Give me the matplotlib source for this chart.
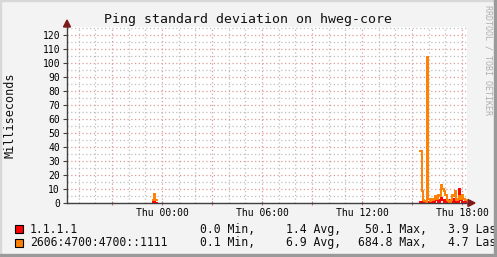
import numpy as np
import matplotlib.pyplot as plt
from matplotlib.patches import Polygon, Rectangle
from matplotlib.ticker import FixedLocator, MultipleLocator

# Time is in hours relative to Thu 00:00, samples every 5 minutes
step = 5 / 60.0

# small blip just before midnight
blip_start = -0.57
blip_v4 = [1.0, 2.0, 0.5]
blip_v6 = [2.0, 6.5, 2.0]

# main cluster late on Thursday
clus_start = 15.49
clus_v4 = [1, 1, 0.5, 1, 0.5, 1, 1, 2, 1, 0.5, 1, 3, 2, 1, 2, 4, 2,
           1, 2, 1, 2, 0.5, 1, 1, 3, 1, 0.5, 1, 10, 2, 1, 1, 1]
clus_v6 = [37, 9, 2, 1.5, 1, 104, 3, 1.5, 3, 2, 3, 5, 3, 6, 5, 13, 10,
           9, 6, 2, 1.5, 1, 2, 6, 5, 9, 2, 3, 5, 3, 6, 3, 2]

tick_hours = [-3, 0, 3, 6, 9, 12, 15, 18]
tick_labels = ['', 'Thu 00:00', '', 'Thu 06:00', '', 'Thu 12:00', '', 'Thu 18:00']

legend_names = ['1.1.1.1', '2606:4700:4700::1111']
legend_min = ['0.0', '0.1']
legend_avg = ['1.4', '6.9']
legend_max = ['50.1', '684.8']
legend_last = ['3.9', '4.7']
colors = ['#FF0000', '#FF8000']

W, H = 497, 257
mono = 'DejaVu Sans Mono'
cw = 6.94  # legend char width in px

def fx(px):
    return px / W

def fy(py):
    return 1 - py / H

fig = plt.figure(figsize=(W / 100, H / 100), dpi=100, facecolor='#F3F3F3')
x0, x1, ytop, ybot = 67, 467, 27.3, 203.3
ax = fig.add_axes([fx(x0), fy(ybot), fx(x1) - fx(x0), fy(ytop) - fy(ybot)])
ax.set_facecolor('white')

t_left = (x0 - 162) * 0.06
t_right = (x1 - 162) * 0.06
ax.set_xlim(t_left, t_right)
ax.set_ylim(0, 125.4)

# grid
ax.xaxis.set_minor_locator(MultipleLocator(1))
ax.yaxis.set_minor_locator(MultipleLocator(5))
ax.grid(which='minor', color='#BEBEBE', linestyle=(0, (1, 2)), linewidth=0.9)
ax.grid(which='major', color='#DC9A9A', linestyle=(0, (1, 2)), linewidth=0.9)
ax.set_axisbelow(True)

ax.xaxis.set_major_locator(FixedLocator(tick_hours))
ax.set_xticklabels(tick_labels, fontfamily=mono, fontsize=7)
ax.yaxis.set_major_locator(MultipleLocator(10))
ax.tick_params(axis='y', which='major', length=3, color='#404040', labelsize=7, pad=2)
ax.tick_params(axis='x', which='major', length=3, color='#C07070', direction='inout',
               labelsize=7, pad=2)
ax.tick_params(which='minor', length=0)
for lab in ax.get_yticklabels():
    lab.set_fontfamily(mono)

for s in ['top', 'right']:
    ax.spines[s].set_visible(False)
for s in ['left', 'bottom']:
    ax.spines[s].set_color('#404040')
    ax.spines[s].set_linewidth(1.0)

# data
def series(start, vals):
    t = start + step * np.arange(len(vals) + 1)
    v = list(vals) + [vals[-1]]
    return t, v

for vals_b, vals_c, c in [(blip_v4, clus_v4, colors[0]), (blip_v6, clus_v6, colors[1])]:
    for start, vals in [(blip_start, vals_b), (clus_start, vals_c)]:
        t, v = series(start, vals)
        ax.plot(t, v, drawstyle='steps-post', color=c, linewidth=1.4, solid_joinstyle='miter')

# arrows
arrow_c = '#7F1A1A'
fig.add_artist(Polygon([[fx(63.5), fy(27)], [fx(70.5), fy(27)], [fx(67), fy(20)]],
                       closed=True, color=arrow_c, transform=fig.transFigure))
fig.add_artist(Polygon([[fx(468), fy(199.5)], [fx(468), fy(206.5)], [fx(475), fy(203)]],
                       closed=True, color=arrow_c, transform=fig.transFigure))

# texts
fig.text(fx(248), fy(19), 'Ping standard deviation on hweg-core', ha='center', va='center',
         fontfamily=mono, fontsize=9.5, color='#101010')
fig.text(fx(10), fy(115), 'Milliseconds', rotation=90, ha='center', va='center',
         fontfamily=mono, fontsize=8.5, color='#101010')
fig.text(fx(488), fy(5), 'RRDTOOL / TOBI OETIKER', rotation=270, ha='center', va='top',
         fontfamily=mono, fontsize=6, color='#B0B0B0')

rows_y = [229.3, 242.7]
for i in range(2):
    y = rows_y[i]
    fig.add_artist(Rectangle((fx(15), fy(y + 4)), fx(8), fy(0) - fy(8), facecolor=colors[i],
                             edgecolor='black', linewidth=0.8, transform=fig.transFigure))
    kw = dict(va='center', ha='left', fontfamily=mono, fontsize=8.3, color='#101010')
    fig.text(fx(30), fy(y), legend_names[i], **kw)
    fig.text(fx(200), fy(y), legend_min[i] + ' Min,', **kw)
    fig.text(fx(286), fy(y), legend_avg[i] + ' Avg,', **kw)
    fig.text(fx(393 - len(legend_max[i]) * cw), fy(y), legend_max[i] + ' Max,', **kw)
    fig.text(fx(448), fy(y), legend_last[i] + ' Last', **kw)

# frame: light top/left, dark bottom/right
fig.add_artist(Rectangle((0, fy(1)), 1, fy(0) - fy(1), color='#D8D8D8', transform=fig.transFigure, zorder=10))
fig.add_artist(Rectangle((0, 0), fx(1), 1, color='#D8D8D8', transform=fig.transFigure, zorder=10))
fig.add_artist(Rectangle((fx(494), 0), fx(3), 1, color='#9A9A9A', transform=fig.transFigure, zorder=10))
fig.add_artist(Rectangle((0, 0), 1, fy(254), color='#9A9A9A', transform=fig.transFigure, zorder=10))

fig.savefig('out.png', dpi=100, facecolor=fig.get_facecolor())
